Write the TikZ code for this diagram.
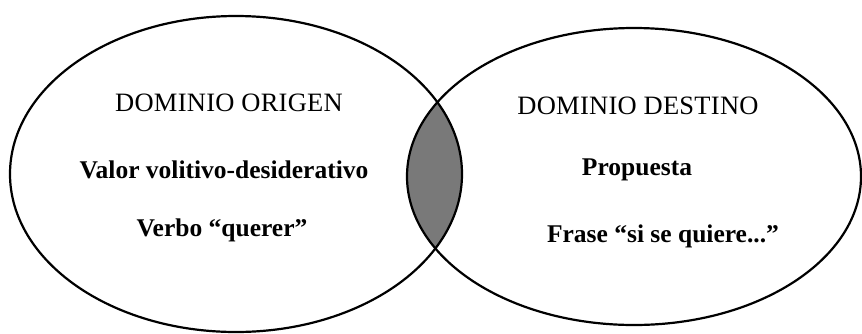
\documentclass[tikz,border=0pt]{standalone}
\usepackage{fontspec}
\setmainfont{Liberation Serif}
\newfontfamily\capsfont[LetterSpace=1]{Liberation Serif}
\tikzset{
  ring/.style={draw=black, line width=2.2pt},
  capslabel/.style={inner sep=0pt, font=\fontsize{26.5}{30}\selectfont\capsfont},
  itemlabel/.style={inner sep=0pt, font=\fontsize{25.5}{28}\selectfont\bfseries},
}
\begin{document}
\begin{tikzpicture}[x=1pt,y=-1pt]
\useasboundingbox (0,0) rectangle (862,333);
\fill[white] (0,0) rectangle (862,333);
\begin{scope}
  \clip (236,174) ellipse [x radius=226, y radius=158];
  \fill[gray!95!black] (634,176.5) ellipse [x radius=227, y radius=148.5];
\end{scope}
\draw[ring] (236,174) ellipse [x radius=226, y radius=158];
\draw[ring] (634,176.5) ellipse [x radius=227, y radius=148.5];
\node[capslabel] (origen) at (229,103) {DOMINIO ORIGEN};
\node[itemlabel] (valor) at (224,170) {Valor volitivo-desiderativo};
\node[itemlabel] (verbo) at (222,230) {Verbo “querer”};
\node[capslabel] (destino) at (638,106) {DOMINIO DESTINO};
\node[itemlabel] (propuesta) at (637,170) {Propuesta};
\node[itemlabel] (frase) at (663,236) {Frase “si se quiere...”};
\end{tikzpicture}
\end{document}
